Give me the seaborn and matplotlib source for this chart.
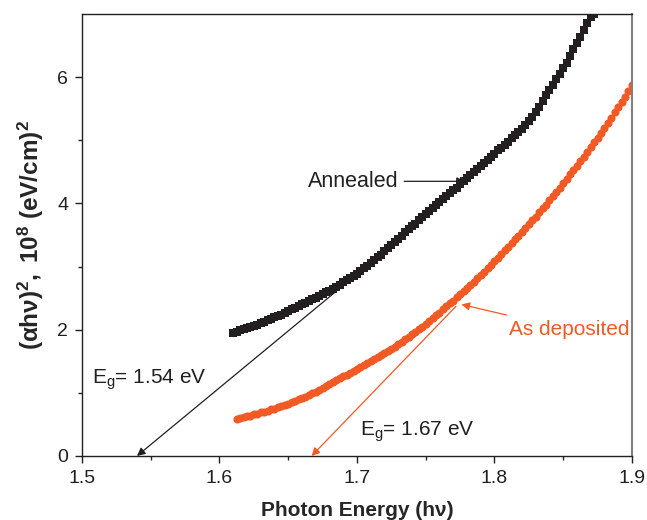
import numpy as np
import matplotlib
matplotlib.use("Agg")
import matplotlib.pyplot as plt
import seaborn as sns
import pandas as pd

# annealed sample
annealed_x = [1.6100, 1.6125, 1.6150, 1.6175, 1.6200, 1.6225, 1.6250, 1.6275, 1.6300, 1.6325,
              1.6350, 1.6375, 1.6400, 1.6425, 1.6450, 1.6475, 1.6500, 1.6525, 1.6550, 1.6575,
              1.6600, 1.6625, 1.6650, 1.6675, 1.6700, 1.6725, 1.6750, 1.6775, 1.6800, 1.6825,
              1.6850, 1.6875, 1.6900, 1.6925, 1.6950, 1.6975, 1.7000, 1.7025, 1.7050, 1.7075,
              1.7100, 1.7125, 1.7150, 1.7175, 1.7200, 1.7225, 1.7250, 1.7275, 1.7300, 1.7325,
              1.7350, 1.7375, 1.7400, 1.7425, 1.7450, 1.7475, 1.7500, 1.7525, 1.7550, 1.7575,
              1.7600, 1.7625, 1.7650, 1.7675, 1.7700, 1.7725, 1.7750, 1.7775, 1.7800, 1.7825,
              1.7850, 1.7875, 1.7900, 1.7925, 1.7950, 1.7975, 1.8000, 1.8025, 1.8050, 1.8075,
              1.8100, 1.8125, 1.8150, 1.8175, 1.8200, 1.8225, 1.8250, 1.8275, 1.8300, 1.8325,
              1.8350, 1.8375, 1.8400, 1.8425, 1.8450, 1.8475, 1.8500, 1.8525, 1.8550, 1.8575,
              1.8600, 1.8625, 1.8650, 1.8675, 1.8700, 1.8725, 1.8750]
annealed_y = [1.95, 1.97, 1.99, 2.01, 2.02, 2.04, 2.06, 2.08, 2.10, 2.12,
              2.15, 2.17, 2.20, 2.22, 2.24, 2.27, 2.29, 2.32, 2.34, 2.37,
              2.40, 2.42, 2.45, 2.48, 2.50, 2.53, 2.56, 2.59, 2.62, 2.65,
              2.68, 2.71, 2.75, 2.78, 2.82, 2.85, 2.89, 2.93, 2.97, 3.01,
              3.06, 3.10, 3.15, 3.19, 3.24, 3.29, 3.34, 3.39, 3.44, 3.49,
              3.54, 3.59, 3.64, 3.68, 3.73, 3.78, 3.83, 3.88, 3.93, 3.97,
              4.02, 4.07, 4.11, 4.16, 4.21, 4.25, 4.30, 4.35, 4.40, 4.45,
              4.50, 4.54, 4.59, 4.64, 4.69, 4.74, 4.79, 4.84, 4.88, 4.93,
              4.98, 5.03, 5.08, 5.13, 5.18, 5.24, 5.30, 5.37, 5.45, 5.53,
              5.62, 5.71, 5.80, 5.88, 5.97, 6.05, 6.14, 6.23, 6.33, 6.44,
              6.54, 6.64, 6.75, 6.86, 6.95, 7.00, 7.05]

# as deposited sample
deposited_x = [1.6125, 1.6150, 1.6175, 1.6200, 1.6225, 1.6250, 1.6275, 1.6300, 1.6325,
               1.6350, 1.6375, 1.6400, 1.6425, 1.6450, 1.6475, 1.6500, 1.6525, 1.6550, 1.6575,
               1.6600, 1.6625, 1.6650, 1.6675, 1.6700, 1.6725, 1.6750, 1.6775, 1.6800, 1.6825,
               1.6850, 1.6875, 1.6900, 1.6925, 1.6950, 1.6975, 1.7000, 1.7025, 1.7050, 1.7075,
               1.7100, 1.7125, 1.7150, 1.7175, 1.7200, 1.7225, 1.7250, 1.7275, 1.7300, 1.7325,
               1.7350, 1.7375, 1.7400, 1.7425, 1.7450, 1.7475, 1.7500, 1.7525, 1.7550, 1.7575,
               1.7600, 1.7625, 1.7650, 1.7675, 1.7700, 1.7725, 1.7750, 1.7775, 1.7800, 1.7825,
               1.7850, 1.7875, 1.7900, 1.7925, 1.7950, 1.7975, 1.8000, 1.8025, 1.8050, 1.8075,
               1.8100, 1.8125, 1.8150, 1.8175, 1.8200, 1.8225, 1.8250, 1.8275, 1.8300, 1.8325,
               1.8350, 1.8375, 1.8400, 1.8425, 1.8450, 1.8475, 1.8500, 1.8525, 1.8550, 1.8575,
               1.8600, 1.8625, 1.8650, 1.8675, 1.8700, 1.8725, 1.8750, 1.8775, 1.8800, 1.8825,
               1.8850, 1.8875, 1.8900, 1.8925, 1.8950, 1.8975, 1.9000]
deposited_y = [0.58, 0.60, 0.61, 0.63, 0.64, 0.66, 0.67, 0.69, 0.70,
               0.72, 0.74, 0.75, 0.77, 0.79, 0.81, 0.83, 0.85, 0.87, 0.90,
               0.92, 0.94, 0.97, 0.99, 1.02, 1.05, 1.08, 1.11, 1.14, 1.17,
               1.20, 1.23, 1.26, 1.29, 1.32, 1.35, 1.38, 1.41, 1.44, 1.47,
               1.50, 1.53, 1.56, 1.60, 1.63, 1.66, 1.69, 1.73, 1.77, 1.81,
               1.85, 1.89, 1.93, 1.97, 2.01, 2.05, 2.09, 2.14, 2.18, 2.23,
               2.27, 2.32, 2.37, 2.42, 2.46, 2.51, 2.56, 2.61, 2.66, 2.71,
               2.76, 2.82, 2.87, 2.92, 2.98, 3.03, 3.09, 3.14, 3.20, 3.26,
               3.31, 3.37, 3.43, 3.49, 3.55, 3.61, 3.67, 3.73, 3.79, 3.86,
               3.92, 3.98, 4.05, 4.11, 4.18, 4.25, 4.32, 4.39, 4.46, 4.53,
               4.60, 4.67, 4.74, 4.82, 4.89, 4.97, 5.04, 5.12, 5.20, 5.28,
               5.36, 5.44, 5.52, 5.60, 5.69, 5.78, 5.88]

# tangent lines (start on curve, end at band gap)
annealed_tangent = [(1.705, 2.97), (1.54, 0.0)]
deposited_tangent = [(1.772, 2.37), (1.667, 0.0)]

x_ticks = [1.5, 1.6, 1.7, 1.8, 1.9]
y_ticks = [0, 2, 4, 6]

black = "#231f20"
red = "#f15a24"

sns.set_style("ticks")
plt.rcParams["font.family"] = ["Liberation Sans", "DejaVu Sans"]
plt.rcParams["mathtext.fontset"] = "custom"
plt.rcParams["mathtext.rm"] = "Liberation Sans"
plt.rcParams["mathtext.it"] = "Liberation Sans:italic"
plt.rcParams["mathtext.bf"] = "Liberation Sans:bold"

fig = plt.figure(figsize=(6.47, 5.2), dpi=100)
ax = fig.add_axes([0.1267, 0.1231, 0.85, 0.85])

df_a = pd.DataFrame({"x": annealed_x, "y": annealed_y})
df_d = pd.DataFrame({"x": deposited_x, "y": deposited_y})
sns.scatterplot(data=df_a, x="x", y="y", marker="s", s=27, color=black, linewidth=0, ax=ax)
sns.scatterplot(data=df_d, x="x", y="y", marker="o", s=34, color=red, linewidth=0, ax=ax)

ax.set_xlim(1.5, 1.9)
ax.set_ylim(0, 7)
ax.set_xticks(x_ticks)
ax.set_xticklabels([str(v) for v in x_ticks])
ax.set_yticks(y_ticks)
ax.set_xticks([1.55, 1.65, 1.75, 1.85], minor=True)
ax.set_yticks([1, 3, 5], minor=True)
ax.tick_params(which="major", direction="out", length=5, width=1, labelsize=14, pad=5,
               colors="#231f20")
ax.tick_params(which="minor", direction="out", length=3, width=1)
for side in ["left", "bottom", "top"]:
    ax.spines[side].set_color("#231f20")
    ax.spines[side].set_linewidth(1)
ax.spines["right"].set_color("#808080")
ax.spines["right"].set_linewidth(1.5)

ax.set_xlabel("Photon Energy (h\u03bd)", fontsize=15, fontweight="bold", labelpad=10)
ax.set_ylabel(r"$\mathbf{(\alpha h\nu)^2,\ 10^8\ (eV/cm)^2}$", fontsize=17.5, labelpad=8)

# tangent lines with arrows at the intercept
ax.annotate("", xy=annealed_tangent[1], xytext=annealed_tangent[0],
            arrowprops=dict(arrowstyle="-|>", color=black, lw=0.9, shrinkA=0, shrinkB=0,
                            mutation_scale=12))
ax.annotate("", xy=deposited_tangent[1], xytext=deposited_tangent[0],
            arrowprops=dict(arrowstyle="-|>", color=red, lw=0.9, shrinkA=0, shrinkB=0,
                            mutation_scale=12))

# labels
ax.annotate("Annealed", xy=(1.7785, 4.35), xytext=(1.664, 4.35), fontsize=15.5, color=black,
            va="center", ha="left",
            arrowprops=dict(arrowstyle="-|>", color=black, lw=0.9, shrinkA=2, shrinkB=0,
                            mutation_scale=12))
ax.annotate("As deposited", xy=(1.776, 2.40), xytext=(1.8105, 2.0), fontsize=15, color=red,
            va="center", ha="left",
            arrowprops=dict(arrowstyle="-|>", color=red, lw=0.9, shrinkA=6, shrinkB=0,
                            mutation_scale=12))
ax.text(1.507, 1.2, r"E$_\mathrm{g}$= 1.54 eV", fontsize=15, color=black, va="center")
ax.text(1.702, 0.38, r"E$_\mathrm{g}$= 1.67 eV", fontsize=15, color=black, va="center")

fig.savefig("out.png", dpi=100)
